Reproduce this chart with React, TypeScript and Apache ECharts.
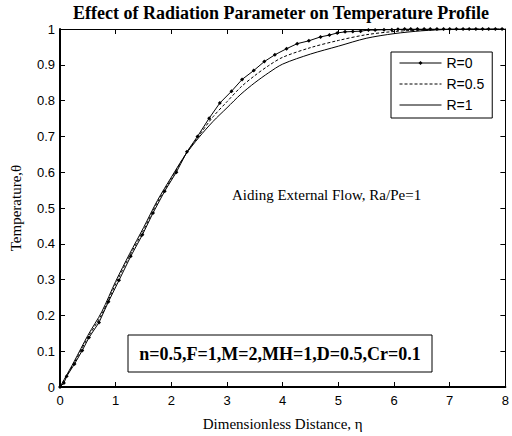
import React, { useEffect, useRef } from "react";
import * as echarts from "echarts";

const etaR0 = [0, 0.07, 0.12, 0.26, 0.40, 0.52, 0.70, 0.87, 1.06, 1.27, 1.48, 1.67, 1.88, 2.09, 2.28, 2.47, 2.68, 2.87, 3.08, 3.27, 3.48, 3.67, 3.86, 4.07, 4.26, 4.47, 4.68, 4.84, 4.98, 5.12, 5.26, 5.40, 5.54, 5.66, 5.82, 5.96, 6.07, 6.19, 6.30, 6.42, 6.54, 6.65, 6.77, 6.89, 7.00, 7.12, 7.24, 7.35, 7.47, 7.59, 7.70, 7.82, 7.94];
const thetaR0 = [0, 0.011, 0.03, 0.064, 0.102, 0.138, 0.18, 0.238, 0.298, 0.365, 0.425, 0.486, 0.547, 0.60, 0.657, 0.70, 0.751, 0.793, 0.826, 0.859, 0.884, 0.909, 0.928, 0.945, 0.959, 0.967, 0.978, 0.983, 0.989, 0.992, 0.993, 0.994, 0.997, 0.997, 0.998, 0.998, 0.999, 1, 1, 1, 1, 1, 1, 1, 1, 1, 1, 1, 1, 1, 1, 1, 1];

const etaGrid = [0, 0.25, 0.5, 0.75, 1, 1.25, 1.5, 1.75, 2, 2.25, 2.5, 2.75, 3, 3.25, 3.5, 3.75, 4, 4.5, 5, 5.5, 6, 6.5, 7, 7.5, 8];
const thetaR05 = [0, 0.066, 0.138, 0.203, 0.288, 0.366, 0.438, 0.516, 0.582, 0.648, 0.703, 0.755, 0.797, 0.838, 0.87, 0.898, 0.921, 0.948, 0.968, 0.984, 0.993, 0.997, 0.999, 1, 1];
const thetaR1 = [0, 0.07, 0.144, 0.21, 0.295, 0.372, 0.445, 0.521, 0.586, 0.648, 0.698, 0.742, 0.78, 0.818, 0.85, 0.878, 0.902, 0.93, 0.952, 0.974, 0.987, 0.995, 0.999, 1, 1];

const seriesNames = ["R=0", "R=0.5", "R=1"];

const serif = "'Liberation Serif', 'Times New Roman', serif";
const sans = "'Liberation Sans', Arial, sans-serif";

export default function App() {
  const ref = useRef<HTMLDivElement>(null);
  useEffect(() => {
    if (!ref.current) return;
    const chart = echarts.init(ref.current, null, { renderer: "svg" });
    const pairs = (xs: number[], ys: number[]) => xs.map((x, i) => [x, ys[i]]);
    chart.setOption({
      animation: false,
      backgroundColor: "#fff",
      grid: { left: 52, right: 2, top: 29, bottom: 45, containLabel: false },
      legend: {
        orient: "vertical",
        left: 391,
        top: 52,
        data: [
          { name: seriesNames[0] },
          { name: seriesNames[1], itemStyle: { opacity: 0 } },
          { name: seriesNames[2], itemStyle: { opacity: 0 } },
        ],
        itemWidth: 42,
        itemHeight: 5,
        itemGap: 7,
        padding: [4, 8, 6, 8],
        borderColor: "#000",
        borderWidth: 1,
        backgroundColor: "#fff",
        lineStyle: { width: 1 },
        textStyle: { fontFamily: sans, fontSize: 14, color: "#000" },
      },
      xAxis: [
        {
          type: "value",
          min: 0,
          max: 8,
          interval: 1,
          name: "Dimensionless Distance, η",
          nameLocation: "middle",
          nameGap: 29,
          nameTextStyle: { fontFamily: serif, fontSize: 15, color: "#000" },
          axisLine: { show: true, onZero: false, lineStyle: { color: "#000", width: 2 } },
          axisTick: { show: true, inside: true, length: 5, lineStyle: { color: "#000" } },
          axisLabel: { fontFamily: sans, fontSize: 13, color: "#000", margin: 7 },
          splitLine: { show: false },
        },
        {
          type: "value",
          position: "top",
          min: 0,
          max: 8,
          interval: 1,
          axisLine: { show: true, onZero: false, lineStyle: { color: "#000", width: 1 } },
          axisTick: { show: true, inside: true, length: 5, lineStyle: { color: "#000" } },
          axisLabel: { show: false },
          splitLine: { show: false },
        },
      ],
      yAxis: [
        {
          type: "value",
          min: 0,
          max: 1,
          interval: 0.1,
          name: "Temperature,θ",
          nameLocation: "middle",
          nameGap: 37,
          nameTextStyle: { fontFamily: serif, fontSize: 15, color: "#000" },
          axisLine: { show: true, onZero: false, lineStyle: { color: "#000", width: 2 } },
          axisTick: { show: true, inside: true, length: 5, lineStyle: { color: "#000" } },
          axisLabel: { fontFamily: sans, fontSize: 13, color: "#000", margin: 5 },
          splitLine: { show: false },
        },
        {
          type: "value",
          position: "right",
          min: 0,
          max: 1,
          interval: 0.1,
          axisLine: { show: true, onZero: false, lineStyle: { color: "#000", width: 1 } },
          axisTick: { show: true, inside: true, length: 5, lineStyle: { color: "#000" } },
          axisLabel: { show: false },
          splitLine: { show: false },
        },
      ],
      series: [
        {
          name: seriesNames[0],
          type: "line",
          data: pairs(etaR0, thetaR0),
          symbol: "diamond",
          symbolSize: 4,
          showSymbol: true,
          smooth: false,
          lineStyle: { color: "#000", width: 1 },
          itemStyle: { color: "#000" },
          z: 5,
        },
        {
          name: seriesNames[1],
          type: "line",
          data: pairs(etaGrid, thetaR05),
          symbol: "none",
          smooth: 0.3,
          lineStyle: { color: "#000", width: 1, type: [3, 2] },
          itemStyle: { color: "#000" },
        },
        {
          name: seriesNames[2],
          type: "line",
          data: pairs(etaGrid, thetaR1),
          symbol: "none",
          smooth: 0.3,
          lineStyle: { color: "#000", width: 1 },
          itemStyle: { color: "#000" },
        },
      ],
      graphic: [
        {
          type: "text",
          x: 281,
          y: 13,
          style: {
            text: "Effect of Radiation Parameter on Temperature Profile",
            fontFamily: serif,
            fontWeight: "bold",
            fontSize: 18,
            fill: "#000",
            textAlign: "center",
            textVerticalAlign: "middle",
          },
        },
        {
          type: "text",
          x: 232,
          y: 195,
          style: {
            text: "Aiding External Flow, Ra/Pe=1",
            fontFamily: serif,
            fontSize: 15,
            fill: "#000",
            textAlign: "left",
            textVerticalAlign: "middle",
          },
        },
        {
          type: "rect",
          shape: { x: 128, y: 335, width: 304, height: 37 },
          style: { fill: "#fff", stroke: "#000", lineWidth: 1 },
          z: 10,
        },
        {
          type: "text",
          x: 280,
          y: 354,
          z: 11,
          style: {
            text: "n=0.5,F=1,M=2,MH=1,D=0.5,Cr=0.1",
            fontFamily: serif,
            fontWeight: "bold",
            fontSize: 18,
            fill: "#000",
            textAlign: "center",
            textVerticalAlign: "middle",
          },
        },
      ],
    });
    return () => chart.dispose();
  }, []);
  return (
    <div
      ref={ref}
      style={{ position: "fixed", left: 0, top: 0, width: 512, height: 436 }}
    />
  );
}
